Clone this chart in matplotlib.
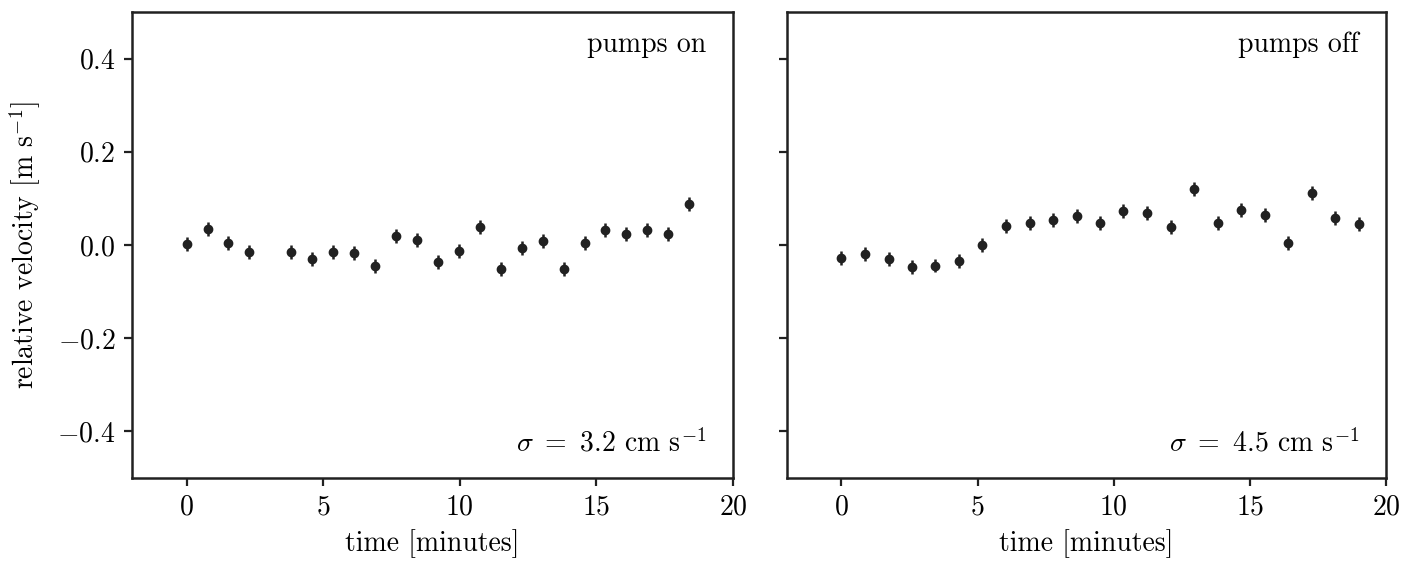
import numpy as np
import matplotlib
matplotlib.use("Agg")
import matplotlib.pyplot as plt

plt.rcParams['font.family'] = 'serif'
plt.rcParams['font.serif'] = ['cmr10']
plt.rcParams['mathtext.fontset'] = 'cm'
plt.rcParams['axes.formatter.use_mathtext'] = True
plt.rcParams['font.size'] = 20

# pumps on
t_on = [0.0, 0.77, 1.53, 2.30, 3.83, 4.60, 5.37, 6.13, 6.90, 7.67, 8.43,
        9.20, 9.97, 10.73, 11.50, 12.27, 13.03, 13.80, 14.57, 15.33, 16.10,
        16.87, 17.63, 18.40]
v_on = [0.002, 0.034, 0.004, -0.015, -0.015, -0.030, -0.016, -0.017, -0.045,
        0.019, 0.011, -0.037, -0.013, 0.039, -0.052, -0.007, 0.009, -0.052,
        0.005, 0.033, 0.023, 0.033, 0.024, 0.088]

# pumps off
t_off = [0.0, 0.86, 1.73, 2.59, 3.45, 4.32, 5.18, 6.05, 6.91, 7.77, 8.64,
         9.50, 10.36, 11.23, 12.09, 12.95, 13.82, 14.68, 15.55, 16.41, 17.27,
         18.14, 19.0]
v_off = [-0.027, -0.019, -0.029, -0.047, -0.044, -0.034, 0.001, 0.040, 0.048,
         0.054, 0.062, 0.047, 0.074, 0.068, 0.039, 0.121, 0.047, 0.075, 0.065,
         0.004, 0.112, 0.059, 0.046]

err = 0.015
panels = [(t_on, v_on, 'pumps on', r'$\sigma\ =\ 3.2$ cm s$^{-1}$'),
          (t_off, v_off, 'pumps off', r'$\sigma\ =\ 4.5$ cm s$^{-1}$')]

fig = plt.figure(figsize=(14.18, 5.62), dpi=100)
ax1 = fig.add_axes([0.0931, 0.1495, 0.4238, 0.8291])
ax2 = fig.add_axes([0.5550, 0.1495, 0.4224, 0.8291], sharey=ax1)

for ax, (t, v, title, sig) in zip([ax1, ax2], panels):
    ax.errorbar(t, v, yerr=err, fmt='o', color='0.13', ms=6, elinewidth=1.8,
                capsize=0)
    ax.set_xlim(-2, 20)
    ax.set_ylim(-0.5, 0.5)
    ax.set_xticks([0, 5, 10, 15, 20])
    ax.set_yticks([-0.4, -0.2, 0.0, 0.2, 0.4])
    ax.set_xlabel('time [minutes]', fontsize=20, labelpad=6)
    ax.text(0.955, 0.93, title, transform=ax.transAxes, ha='right',
            va='center', fontsize=20)
    ax.text(0.955, 0.075, sig, transform=ax.transAxes, ha='right',
            va='center', fontsize=20)
    ax.tick_params(direction='out', length=6, width=1.6, labelsize=20,
                   color='0.13', pad=6)
    for s in ax.spines.values():
        s.set_linewidth(1.8)
        s.set_color('0.13')

ax1.set_ylabel(r'relative velocity [m s$^{-1}$]', fontsize=20, labelpad=10)
ax2.tick_params(labelleft=False)

fig.savefig('out.png', dpi=100)
